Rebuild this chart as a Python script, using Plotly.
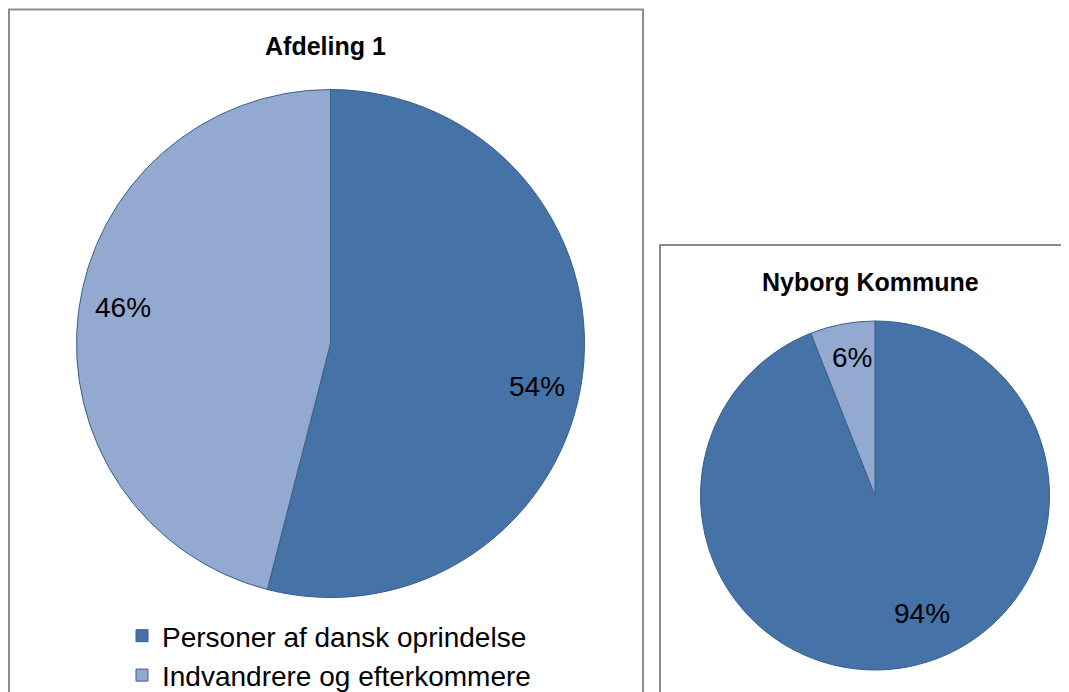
import math
import plotly.graph_objects as go

# ---- data ----
categories = ["Personer af dansk oprindelse", "Indvandrere og efterkommere"]
afdeling_values = [54, 46]
nyborg_values = [94, 6]
chart_titles = ["Afdeling 1", "Nyborg Kommune"]

# ---- style / layout ----
W, H = 1069, 692
OFF = 8  # page body margin in the browser
FONT = "Liberation Sans, Arial, sans-serif"
slice_colors = ["#4572A7", "#93A9CF"]
slice_line = "#3A5F8B"
border_color = "#8C8C8C"


def fx(x):
    return (x - OFF) / W


def fy(y):
    return 1 - (y - OFF) / H


panels = [
    dict(values=afdeling_values, title=chart_titles[0], cx=330.5, cy=343.5, r=254,
         label_r=[0.83, 0.83], label_da=[4.6, 2.5], title_xy=(325, 46)),
    dict(values=nyborg_values, title=chart_titles[1], cx=875, cy=495.5, r=174.5,
         label_r=[0.73, 0.80], label_da=[-11, 1.3], title_xy=(870, 282)),
]

fig = go.Figure()
annotations = []
for i, p in enumerate(panels):
    cx, cy, r = p["cx"], p["cy"], p["r"]
    fig.add_trace(go.Pie(
        labels=categories,
        values=p["values"],
        sort=False,
        direction="clockwise",
        rotation=0,
        textinfo="none",
        textposition="none",
        hoverinfo="label+percent",
        marker=dict(colors=slice_colors, line=dict(color=slice_line, width=1)),
        domain=dict(x=[fx(cx - r), fx(cx + r)], y=[fy(cy + r), fy(cy - r)]),
        showlegend=(i == 0),
    ))
    total = sum(p["values"])
    cum = 0
    for j, v in enumerate(p["values"]):
        theta = math.radians((cum + v / 2) / total * 360 + p["label_da"][j])
        cum += v
        lx = cx + p["label_r"][j] * r * math.sin(theta)
        ly = cy - p["label_r"][j] * r * math.cos(theta)
        annotations.append(dict(
            x=fx(lx), y=fy(ly), xref="paper", yref="paper",
            text=f"{round(v / total * 100)}%", showarrow=False,
            xanchor="center", yanchor="middle",
            font=dict(family=FONT, size=28, color="#000000"),
        ))
    tx, ty = p["title_xy"]
    annotations.append(dict(
        x=fx(tx), y=fy(ty), xref="paper", yref="paper",
        text=f"<b>{p['title']}</b>", showarrow=False,
        xanchor="center", yanchor="middle",
        font=dict(family=FONT, size=25, color="#000000"),
    ))

shapes = [
    dict(type="rect", xref="paper", yref="paper", layer="below",
         x0=fx(9), x1=fx(643), y0=-0.2, y1=fy(9.5),
         line=dict(color=border_color, width=2), fillcolor="rgba(0,0,0,0)"),
    dict(type="rect", xref="paper", yref="paper", layer="below",
         x0=fx(660), x1=1.2, y0=-0.2, y1=fy(245),
         line=dict(color=border_color, width=2), fillcolor="rgba(0,0,0,0)"),
]

fig.update_layout(
    width=W, height=H,
    margin=dict(l=0, r=0, t=0, b=0),
    paper_bgcolor="white",
    plot_bgcolor="white",
    font=dict(family=FONT, color="#000000"),
    annotations=annotations,
    shapes=shapes,
    showlegend=True,
    legend=dict(
        x=fx(122), y=fy(611), xanchor="left", yanchor="top",
        font=dict(family=FONT, size=28, color="#000000"),
        bgcolor="rgba(0,0,0,0)", borderwidth=0,
        traceorder="normal",
    ),
)

fig.write_html("out.html")
